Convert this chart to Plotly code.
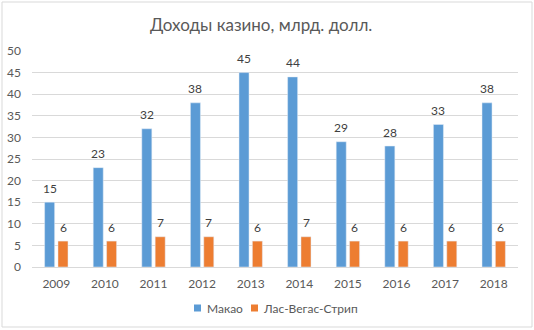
import plotly.graph_objects as go

years = ["2009", "2010", "2011", "2012", "2013", "2014", "2015", "2016", "2017", "2018"]
macao = [15, 23, 32, 38, 45, 44, 29, 28, 33, 38]
vegas = [6, 6, 7, 7, 6, 7, 6, 6, 6, 6]
y_ticks = [0, 5, 10, 15, 20, 25, 30, 35, 40, 45, 50]
series_names = ["Макао", "Лас-Вегас-Стрип"]
colors = ["#5B9BD5", "#ED7D31"]

FONT = "Lato"

W, H = 534, 330
L, R, T, B = 32, 16, 51, 63
pw, ph = W - L - R, H - T - B


def px(x):
    return (x - L) / pw


def py(y):
    return (H - B - y) / ph


fig = go.Figure()
for name, vals, col in zip(series_names, [macao, vegas], colors):
    fig.add_trace(go.Bar(x=years, y=vals, name=name, marker_color=col, showlegend=False))

# data labels above bars
for si, vals in enumerate([macao, vegas]):
    shift = -6.7 if si == 0 else 6.7
    for i, v in enumerate(vals):
        fig.add_annotation(x=i, y=v, xref="x", yref="y", text=str(v), showarrow=False,
                           xshift=shift, yshift=14, yanchor="middle",
                           font=dict(size=12, color="#404040", family=FONT))

# border
fig.add_shape(type="rect", xref="paper", yref="paper",
              x0=px(2), x1=px(532), y0=py(327), y1=py(2),
              line=dict(color="#D9D9D9", width=1), layer="below")

# title
fig.add_annotation(xref="paper", yref="paper", x=px(261), y=py(24),
                   text="Доходы казино, млрд. долл.", showarrow=False,
                   xanchor="center", yanchor="middle",
                   font=dict(size=17, color="#595959", family=FONT))

# manual legend
leg_y = 308
legend_items = [(194, 205), (251, 261)]
for (sx, tx), name, col in zip(legend_items, series_names, colors):
    fig.add_shape(type="rect", xref="paper", yref="paper",
                  x0=px(sx), x1=px(sx + 7), y0=py(leg_y + 3.5), y1=py(leg_y - 3.5),
                  fillcolor=col, line=dict(width=0))
    fig.add_annotation(xref="paper", yref="paper", x=px(tx), y=py(leg_y), text=name,
                       showarrow=False, xanchor="left", yanchor="middle",
                       font=dict(size=12, color="#595959", family=FONT))

fig.update_layout(
    width=W, height=H,
    margin=dict(l=L, r=R, t=T, b=B, autoexpand=False),
    paper_bgcolor="white", plot_bgcolor="white",
    barmode="group", bargap=0.45, bargroupgap=0.25,
    font=dict(family=FONT, color="#595959", size=12),
    xaxis=dict(type="category", categoryorder="array", categoryarray=years,
               range=[-0.5, len(years) - 0.5], automargin=False,
               showgrid=False, showline=True, linecolor="#D9D9D9", ticks="",
               ticklabelstandoff=6, tickfont=dict(size=12, color="#595959")),
    yaxis=dict(range=[0, 50], tickvals=y_ticks, showgrid=True, gridcolor="#D9D9D9",
               automargin=False,
               zeroline=False, showline=False, ticks="", ticklabelstandoff=10,
               tickfont=dict(size=12, color="#595959")),
    showlegend=False,
)

fig.write_html("out.html")
